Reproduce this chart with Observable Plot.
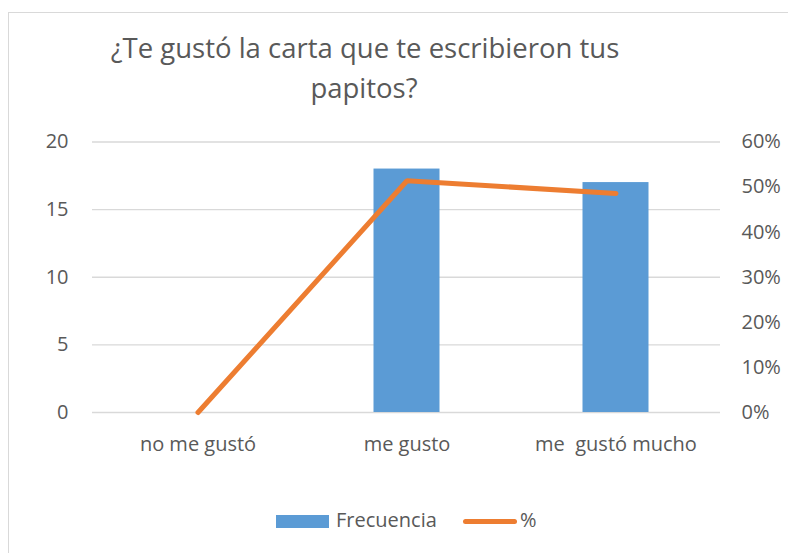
<!DOCTYPE html>
<html>
<head>
<meta charset="utf-8">
<script src="https://cdn.jsdelivr.net/npm/d3@7"></script>
<script src="https://cdn.jsdelivr.net/npm/@observablehq/plot@0.6"></script>
<style>
  html, body { margin: 0; padding: 0; background: #fff; overflow: hidden; }
  #wrap { position: relative; width: 788px; height: 553px; font-family: "Open Sans", sans-serif; color: #595959; }
  #frame { position: absolute; left: 8px; top: 12px; width: 820px; height: 600px; border: 1px solid #d9d9d9; box-sizing: border-box; }
  .title { position: absolute; width: 700px; text-align: center; font-size: 27.5px; line-height: 40px; white-space: nowrap; }
  #chart { position: absolute; left: 0; top: 0; }
  #chart svg text { white-space: pre; }
  .leg { position: absolute; font-size: 20px; line-height: 20px; white-space: nowrap; }
</style>
</head>
<body>
<div id="wrap">
  <div id="frame"></div>
  <div id="chart"></div>
  <div class="title" style="left:15px; top:28px;">¿Te gustó la carta que te escribieron tus</div>
  <div class="title" style="left:14px; top:68px;">papitos?</div>
  <div class="leg" style="left:276px; top:515px; width:53px; height:13px; background:#5B9BD5;"></div>
  <div class="leg" style="left:336px; top:510px;">Frecuencia</div>
  <div class="leg" style="left:463px; top:519px; width:54px; height:5px; background:#ED7D31; border-radius:3px;"></div>
  <div class="leg" style="left:520px; top:510px;">%</div>
</div>
<script>
const categories = ["no me gustó", "me gusto", "me  gustó mucho"];
const frecuencia = [0, 18, 17];
const porcentaje = [0, 0.514, 0.486];
const leftTicks = [0, 5, 10, 15, 20];
const pctTicks = [0, 0.1, 0.2, 0.3, 0.4, 0.5, 0.6];

// secondary (right) axis mapped onto the left scale's domain
const pctToLeft = d3.scaleLinear().domain([0, 0.6]).range([0, 20]);
const fmtPct = d3.format(".0%");

const chart = Plot.plot({
  width: 788,
  height: 553,
  marginLeft: 92,
  marginRight: 68,
  marginTop: 141.5,
  marginBottom: 141,
  x: { domain: categories, padding: 0 },
  y: { domain: [0, 20] },
  style: { fontFamily: "Open Sans", fontSize: "20px", color: "#595959", background: "transparent", overflow: "visible" },
  marks: [
    Plot.gridY(leftTicks, { stroke: "#d9d9d9", strokeOpacity: 1, strokeWidth: 1.3 }),
    Plot.axisY(leftTicks, { anchor: "left", tickSize: 0, tickPadding: 24, label: null }),
    Plot.axisY(pctTicks.map(p => pctToLeft(p)), {
      anchor: "right", tickSize: 0, tickPadding: 21, label: null,
      tickFormat: d => fmtPct(pctToLeft.invert(d)), textAnchor: "start"
    }),
    Plot.axisX({ tickSize: 0, tickPadding: 24, label: null }),
    Plot.barY(categories, { x: categories, y: frecuencia, fill: "#5B9BD5", insetLeft: 71.5, insetRight: 71.5 }),
    Plot.lineY(categories, {
      x: categories, y: porcentaje.map(p => pctToLeft(p)),
      stroke: "#ED7D31", strokeWidth: 5, strokeLinecap: "round", strokeLinejoin: "miter"
    })
  ]
});
document.getElementById("chart").appendChild(chart);
</script>
</body>
</html>
